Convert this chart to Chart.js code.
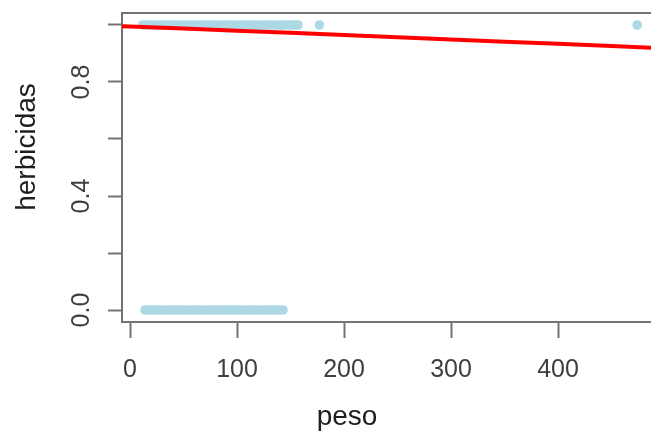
<!DOCTYPE html>
<html lang="es">
<head>
<meta charset="UTF-8">
<title>herbicidas vs peso</title>
<script src="https://cdn.jsdelivr.net/npm/chart.js"></script>
<style>
  html, body { margin: 0; padding: 0; background: #fff; overflow: hidden; }
  canvas { display: block; }
</style>
</head>
<body>
<canvas id="grafico" width="651" height="432"></canvas>
<script>
// observaciones: peso de cada individuo con respuesta 1 y con respuesta 0
const pesoUno = [12, 15, 19, 22, 26, 30, 33, 37, 41, 44, 48, 52, 56, 59, 63, 67, 70, 74, 78, 81,
                 85, 89, 93, 96, 100, 104, 107, 111, 115, 118, 122, 126, 130, 133, 137, 141, 144,
                 148, 151, 154, 157, 177, 474];
const pesoCero = [14, 17, 21, 25, 28, 32, 36, 39, 43, 47, 50, 54, 58, 62, 65, 69, 73, 76, 80, 84,
                  88, 91, 95, 99, 102, 106, 110, 113, 117, 121, 125, 128, 132, 136, 139, 143];

// curva ajustada (roja)
const curvaPeso = [-10, 0, 100, 200, 300, 400, 500];
const curvaProb = [0.996, 0.995, 0.980, 0.965, 0.949, 0.934, 0.918];

const xTicks = [0, 100, 200, 300, 400];
const yTicks = [0, 0.2, 0.4, 0.6, 0.8, 1.0];
const yTickLabels = { 0: '0.0', 0.4: '0.4', 0.8: '0.8' };

const puntos = pesoUno.map(p => ({ x: p, y: 1 }))
  .concat(pesoCero.map(p => ({ x: p, y: 0 })));
const curva = curvaPeso.map((p, i) => ({ x: p, y: curvaProb[i] }));

const ejeColor = '#747474';
const fuenteTicks = { family: '"Liberation Sans", Arial, sans-serif', size: 25 };

// marco superior y titulos de los ejes
const extras = {
  id: 'extras',
  afterDraw(chart) {
    const { ctx, chartArea } = chart;
    ctx.save();
    ctx.strokeStyle = ejeColor;
    ctx.lineWidth = 2;
    ctx.beginPath();
    ctx.moveTo(chartArea.left - 1, chartArea.top);
    ctx.lineTo(chartArea.right + 2, chartArea.top);
    ctx.stroke();

    ctx.fillStyle = '#1e1e1e';
    ctx.font = '28px "Liberation Sans", Arial, sans-serif';
    ctx.textAlign = 'center';
    ctx.textBaseline = 'alphabetic';
    ctx.fillText('peso', 347, 425);

    ctx.translate(35, 147);
    ctx.rotate(-Math.PI / 2);
    ctx.fillText('herbicidas', 0, 0);
    ctx.restore();
  }
};

new Chart(document.getElementById('grafico'), {
  type: 'scatter',
  data: {
    datasets: [
      {
        type: 'line',
        data: curva,
        borderColor: '#ff0000',
        borderWidth: 4,
        pointRadius: 0,
        fill: false,
        tension: 0.3,
        order: 0
      },
      {
        data: puntos,
        backgroundColor: '#add8e6',
        borderWidth: 0,
        pointRadius: 4.8,
        order: 1
      }
    ]
  },
  options: {
    responsive: false,
    animation: false,
    layout: { autoPadding: false, padding: { top: 13, right: 0, left: 0, bottom: 0 } },
    plugins: { legend: { display: false }, tooltip: { enabled: false } },
    scales: {
      x: {
        type: 'linear',
        min: -7.48,
        max: 486.9,
        afterBuildTicks: s => { s.ticks = xTicks.map(v => ({ value: v })); },
        afterFit: s => { s.height = 110; s.paddingLeft = 0; s.paddingRight = 0; },
        grid: { drawOnChartArea: false, tickLength: 16, tickWidth: 2, tickColor: ejeColor },
        border: { display: true, color: ejeColor, width: 2 },
        ticks: { color: '#3e3e3e', font: fuenteTicks, padding: 17, maxRotation: 0, autoSkip: false }
      },
      y: {
        min: -0.0421,
        max: 1.0421,
        afterBuildTicks: s => { s.ticks = yTicks.map(v => ({ value: v })); },
        afterFit: s => { s.width = 122; s.paddingTop = 0; s.paddingBottom = 0; },
        grid: { drawOnChartArea: false, tickLength: 14, tickWidth: 2, tickColor: ejeColor },
        border: { display: true, color: ejeColor, width: 2 },
        ticks: {
          color: '#3e3e3e',
          font: fuenteTicks,
          padding: 9,
          minRotation: 90,
          maxRotation: 90,
          crossAlign: 'center',
          autoSkip: false,
          callback: v => yTickLabels[Math.round(v * 10) / 10] || ''
        }
      }
    }
  },
  plugins: [extras]
});
</script>
</body>
</html>
